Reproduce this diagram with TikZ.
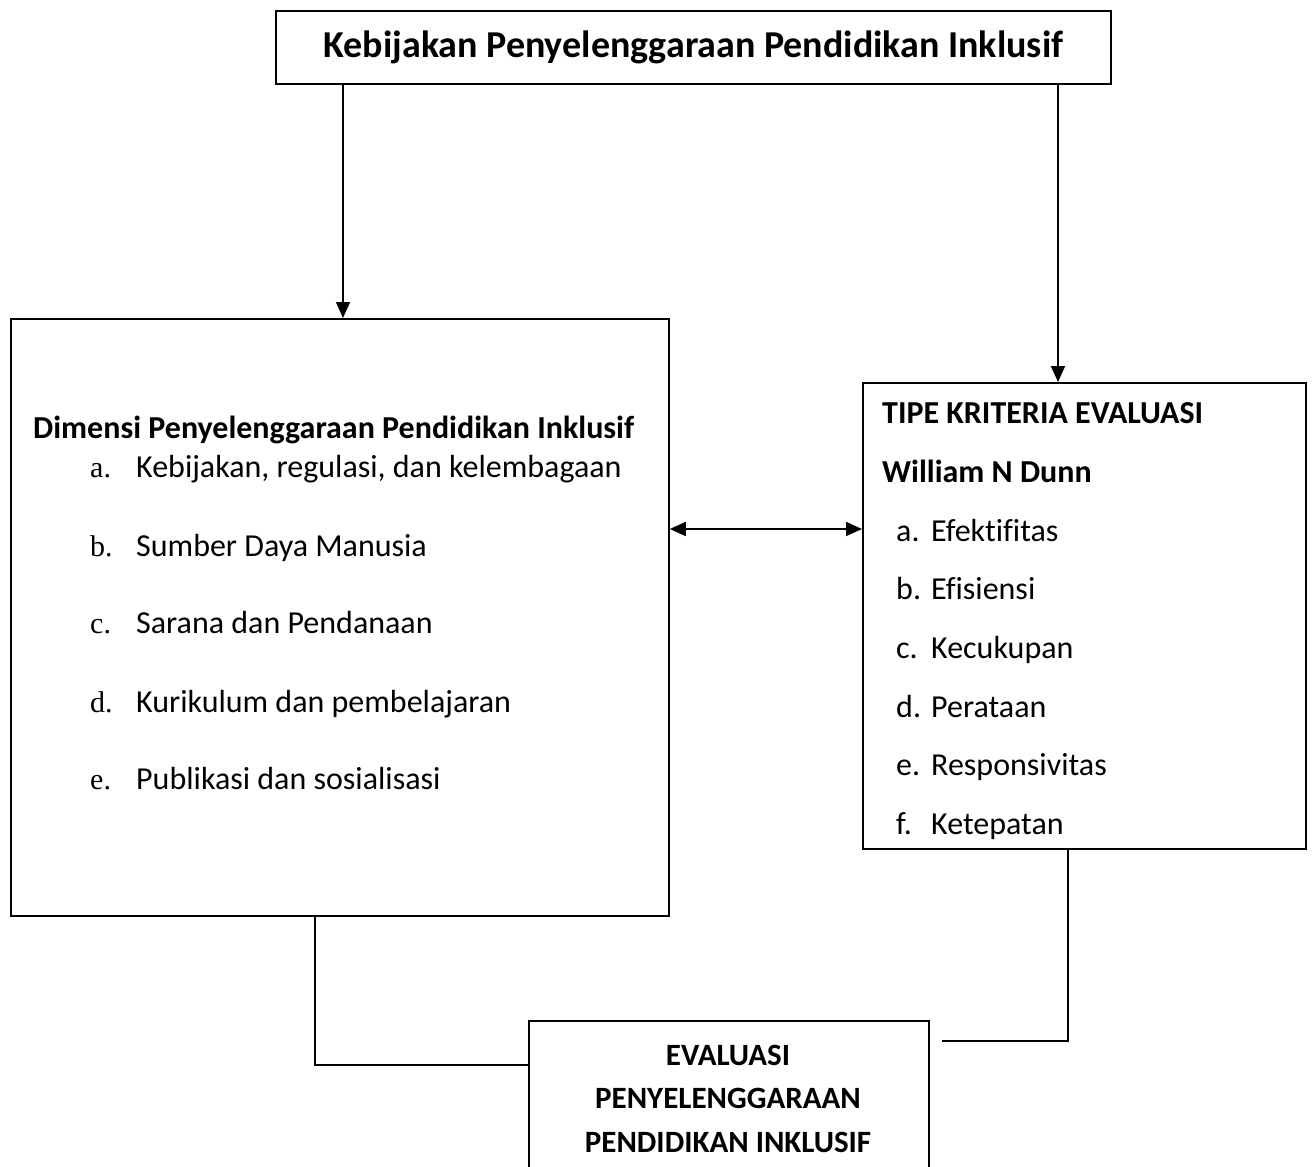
\documentclass[tikz,border=0pt]{standalone}
\usepackage{fontspec}
\setmainfont{Carlito}[Ligatures=NoCommon]
\newfontfamily\lserif{Liberation Serif}
\usetikzlibrary{arrows.meta,calc}
\begin{document}
\begin{tikzpicture}[x=1pt,y=-1pt,
  box/.style={draw,line width=1.8pt,inner sep=0pt,anchor=north west},
  conn/.style={line width=1.8pt},
  arr/.style={conn,-{Triangle[length=16pt,width=14pt]}},
  darr/.style={conn,{Triangle[length=16pt,width=14pt]}-{Triangle[length=16pt,width=14pt]}},
  txt/.style={inner sep=0pt,anchor=base west,font=\fontsize{32}{38}\selectfont},
  btxt/.style={txt,font=\fontsize{32}{38}\selectfont\bfseries},
  ltr/.style={inner sep=0pt,anchor=base west,font=\fontsize{30}{36}\selectfont\lserif},
  ctxt/.style={inner sep=0pt,anchor=base,font=\fontsize{31}{37}\selectfont\bfseries},
]
\clip (0,0) rectangle (1312,1167);
\useasboundingbox (0,0) rectangle (1312,1167);

% boxes
\node[box,minimum width=835pt,minimum height=73pt,font=\fontsize{38}{44}\selectfont\bfseries] (title) at (275,10) {Kebijakan Penyelenggaraan Pendidikan Inklusif};
\node[box,minimum width=658pt,minimum height=597pt] (lbox) at (10,318) {};
\node[box,minimum width=443pt,minimum height=466pt] (rbox) at (862,382) {};
\node[box,minimum width=400pt,minimum height=200pt] (bbox) at (528,1020) {};

% left box text
\node[btxt] (lhead) at (33,438) {Dimensi Penyelenggaraan Pendidikan Inklusif};
\node[ltr] (la) at (90,477) {a.};
\node[txt] (lat) at (136,477) {Kebijakan, regulasi, dan kelembagaan};
\node[ltr] (lb) at (90,556) {b.};
\node[txt] (lbt) at (136,556) {Sumber Daya Manusia};
\node[ltr] (lc) at (90,633) {c.};
\node[txt] (lct) at (136,633) {Sarana dan Pendanaan};
\node[ltr] (ld) at (90,712) {d.};
\node[txt] (ldt) at (136,712) {Kurikulum dan pembelajaran};
\node[ltr] (le) at (90,789) {e.};
\node[txt] (let) at (136,789) {Publikasi dan sosialisasi};

% right box text
\node[btxt] (rhead) at (882,423) {TIPE KRITERIA EVALUASI};
\node[btxt] (rhead2) at (882,482) {William N Dunn};
\node[txt] (ra) at (896,541) {a.};
\node[txt] (rat) at (931,541) {Efektifitas};
\node[txt] (rb) at (896,599) {b.};
\node[txt] (rbt) at (931,599) {Efisiensi};
\node[txt] (rc) at (896,658) {c.};
\node[txt] (rct) at (931,658) {Kecukupan};
\node[txt] (rd) at (896,717) {d.};
\node[txt] (rdt) at (931,717) {Perataan};
\node[txt] (re) at (896,775) {e.};
\node[txt] (ret) at (931,775) {Responsivitas};
\node[txt] (rf) at (896,834) {f.};
\node[txt] (rft) at (931,834) {Ketepatan};

% bottom box text
\node[ctxt] (b1) at (728,1065) {EVALUASI};
\node[ctxt] (b2) at (728,1108) {PENYELENGGARAAN};
\node[ctxt] (b3) at (728,1152) {PENDIDIKAN INKLUSIF};

% connectors
\coordinate (tl) at ($(title.south west)+(68,0)$);
\coordinate (tr) at ($(title.south west)+(783,0)$);
\draw[arr] (tl) -- (tl |- lbox.north);
\draw[arr] (tr) -- (tr |- rbox.north);
\coordinate (mid) at (0,529);
\draw[darr] (lbox.east |- mid) -- (rbox.west |- mid);
\coordinate (lj) at ($(lbox.south west)+(305,0)$);
\coordinate (lk) at ($(bbox.north west)+(0,45)$);
\draw[conn] (lj) |- (lk);
\coordinate (rj) at ($(rbox.south west)+(206,0)$);
\coordinate (rk) at ($(bbox.north east)+(12,21)$);
\draw[conn] (rj) |- (rk);
\end{tikzpicture}
\end{document}
